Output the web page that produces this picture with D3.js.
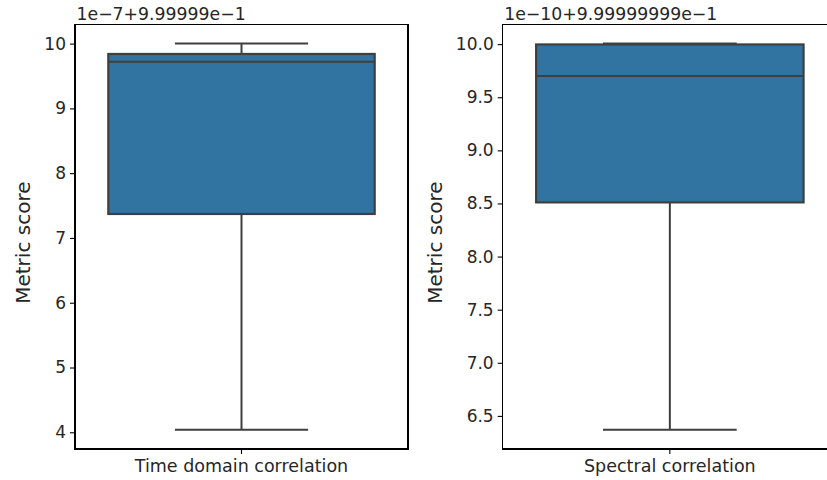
<!DOCTYPE html>
<html>
<head>
<meta charset="utf-8">
<script src="https://cdn.jsdelivr.net/npm/d3@7"></script>
<style>
  html, body { margin: 0; padding: 0; background: #ffffff; }
  svg { display: block; }
  text { font-family: "DejaVu Sans", sans-serif; fill: #262626; }
</style>
</head>
<body>
<svg id="chart" width="827" height="480"></svg>
<script>
// ---- Data (values as shown on each axis, relative to the offset text) ----
const categories = ["Time domain correlation", "Spectral correlation"];
const offsetLabels = ["1e\u22127+9.99999e\u22121", "1e\u221210+9.99999999e\u22121"];
const whiskerLow  = [4.04, 6.37];
const q1Values    = [7.37, 8.51];
const medianVals  = [9.72, 9.70];
const q3Values    = [9.84, 9.997];
const whiskerHigh = [10.0, 10.005];
const leftTicks   = [4, 5, 6, 7, 8, 9, 10];
const rightTicks  = [6.5, 7.0, 7.5, 8.0, 8.5, 9.0, 9.5, 10.0];
const tickSets    = [leftTicks, rightTicks];
const tickFormats = [d3.format("d"), d3.format(".1f")];
const yLabel = "Metric score";

// ---- Layout ----
const svg = d3.select("#chart");
const panels = [
  { left: 75, right: 408, ylabelX: 30 },
  { left: 502.7, right: 837, ylabelX: 442 }
];
const plotTop = 24.3, plotBottom = 449;
const boxFill = "#3274a1";
const lineCol = "#3f3f3f";

panels.forEach((p, i) => {
  const lo = whiskerLow[i], hi = whiskerHigh[i];
  const m = (hi - lo) * 0.05;
  const y = d3.scaleLinear().domain([lo - m, hi + m]).range([plotBottom, plotTop]);
  const x = d3.scaleBand().domain([categories[i]]).range([p.left, p.right]).paddingInner(0).paddingOuter(0);
  const g = svg.append("g");

  const cx = x(categories[i]) + x.bandwidth() / 2;
  const bw = x.bandwidth() * 0.8;
  const capW = bw / 2;

  // whiskers
  g.append("line").attr("x1", cx).attr("x2", cx)
    .attr("y1", y(q1Values[i])).attr("y2", y(lo))
    .attr("stroke", lineCol).attr("stroke-width", 2);
  g.append("line").attr("x1", cx).attr("x2", cx)
    .attr("y1", y(q3Values[i])).attr("y2", y(hi))
    .attr("stroke", lineCol).attr("stroke-width", 2);
  // caps
  [lo, hi].forEach(v => {
    g.append("line").attr("x1", cx - capW / 2).attr("x2", cx + capW / 2)
      .attr("y1", y(v)).attr("y2", y(v))
      .attr("stroke", lineCol).attr("stroke-width", 2);
  });
  // box
  g.append("rect")
    .attr("x", cx - bw / 2).attr("width", bw)
    .attr("y", y(q3Values[i])).attr("height", y(q1Values[i]) - y(q3Values[i]))
    .attr("fill", boxFill).attr("stroke", lineCol).attr("stroke-width", 2.2);
  // median
  g.append("line").attr("x1", cx - bw / 2).attr("x2", cx + bw / 2)
    .attr("y1", y(medianVals[i])).attr("y2", y(medianVals[i]))
    .attr("stroke", lineCol).attr("stroke-width", 2.2);

  // frame
  g.append("rect")
    .attr("x", p.left).attr("y", plotTop)
    .attr("width", p.right - p.left).attr("height", plotBottom - plotTop)
    .attr("fill", "none").attr("stroke", "#000").attr("stroke-width", 1.1)
    .attr("shape-rendering", "crispEdges");

  // y axis
  const yAxis = d3.axisLeft(y).tickValues(tickSets[i]).tickFormat(tickFormats[i])
    .tickSize(5).tickPadding(4);
  const ya = g.append("g").attr("transform", `translate(${p.left},0)`).call(yAxis);
  ya.select(".domain").remove();
  ya.selectAll(".tick line").attr("stroke", "#000").attr("stroke-width", 1.1);
  ya.selectAll(".tick text").attr("font-size", "17px").attr("fill", "#262626")
    .attr("font-family", "DejaVu Sans");

  // x axis
  const xAxis = d3.axisBottom(x).tickSize(5).tickPadding(6);
  const xa = g.append("g").attr("transform", `translate(0,${plotBottom})`).call(xAxis);
  xa.select(".domain").remove();
  xa.selectAll(".tick line").attr("stroke", "#000").attr("stroke-width", 1.1);
  xa.selectAll(".tick text").attr("font-size", "17.5px").attr("fill", "#262626")
    .attr("font-family", "DejaVu Sans");

  // y label
  svg.append("text")
    .attr("transform", `translate(${p.ylabelX},${(plotTop + plotBottom) / 2 + 6}) rotate(-90)`)
    .attr("text-anchor", "middle")
    .attr("font-size", "20px")
    .text(yLabel);

  // offset text
  svg.append("text")
    .attr("x", p.left + 1.5).attr("y", 20)
    .attr("font-size", "17.3px")
    .text(offsetLabels[i]);
});
</script>
</body>
</html>
